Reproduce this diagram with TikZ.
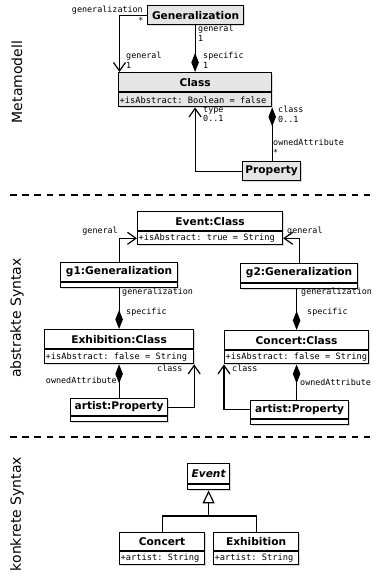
\documentclass[tikz,border=0pt]{standalone}
\usepackage{fontspec}
\setmainfont{DejaVu Sans}
\setmonofont{DejaVu Sans Mono}
\usetikzlibrary{arrows.meta,shadows}
\newcommand\nmfont{\fontsize{10.6}{12}\selectfont\bfseries}
\newcommand\atfont{\fontsize{8.7}{10}\selectfont\ttfamily}
\newcommand\lbfont{\fontsize{8.4}{9.6}\selectfont\ttfamily}
\begin{document}
\begin{tikzpicture}[x=1pt,y=-1pt,
  ln/.style={line width=1.2pt},
  cbox/.style={draw, line width=1.2pt, inner sep=0pt, anchor=north west, fill=white,
    drop shadow={shadow xshift=1.2pt, shadow yshift=-1.2pt, opacity=0.3}},
  gbox/.style={cbox, fill=black!10},
  nm/.style={font=\nmfont},
  attxt/.style={font=\atfont, inner sep=0pt, anchor=west},
  lb/.style={font=\lbfont, inner sep=0pt, align=left},
  openv/.style={-{Straight Barb[length=8.5pt,width=12pt]}},
  comp/.style={{Diamond[length=19pt,width=7.5pt]}-},
  inh/.style={-{Triangle[open,length=13pt,width=12pt,fill=white]}},
  sepline/.style={dash pattern=on 6.5pt off 5.7pt, line width=1.5pt},
  sect/.style={font=\fontsize{14}{16}\selectfont, rotate=90, inner sep=0pt}
]
\useasboundingbox (0,0) rectangle (380,576);

% section labels
\node[sect] (s1) at (17,82) {Metamodell};
\node[sect] (s2) at (17,318) {abstrakte Syntax};
\node[sect] (s3) at (17,514) {konkrete Syntax};

% separators
\draw[sepline] (10,195) -- (372,195);
\draw[sepline] (10,437) -- (372,437);

% ---------------- Metamodell
\node[gbox, nm, minimum width=96pt, minimum height=19pt] (gen) at (147,5) {Generalization};
\node[gbox, nm, minimum width=153pt, minimum height=19pt] (cls) at (118,72) {Class};
\node[gbox, minimum width=153pt, minimum height=14pt] (clsA) at (cls.south west) {};
\node[attxt] (clsAt) at ([xshift=1.5pt]clsA.west) {+isAbstract: Boolean = false};
\node[gbox, nm, minimum width=58pt, minimum height=19pt] (prop) at (242,161) {Property};

\draw[ln, openv] (gen.west) -| ([xshift=1.5pt]cls.north west);
\draw[ln, comp] (cls.north) -- (cls.north |- gen.south);
\draw[ln, openv] (prop.west) -| (clsA.south);
\draw[ln, comp] (clsA.south east) -- (clsA.south east |- prop.north);

\node[lb, anchor=east] (l1) at (143,10) {generalization};
\node[lb] (l2) at (141,20) {*};
\node[lb, anchor=north west] (l3) at (126,52) {general\\1};
\node[lb, anchor=north west] (l4) at (198,25) {general\\1};
\node[lb, anchor=north west] (l5) at (203,52) {specific\\1};
\node[lb, anchor=north west] (l6) at (203,106) {type\\0..1};
\node[lb, anchor=north west] (l7) at (278,106) {class\\0..1};
\node[lb, anchor=north west] (l8) at (273,139) {ownedAttribute\\*};

% ---------------- abstrakte Syntax
\node[cbox, nm, minimum width=145pt, minimum height=19pt] (ev) at (137,211) {Event:Class};
\node[cbox, minimum width=145pt, minimum height=13pt] (evA) at (ev.south west) {};
\node[attxt] (evAt) at ([xshift=1.5pt]evA.west) {+isAbstract: true = String};

\node[cbox, nm, minimum width=117pt, minimum height=19pt] (g1) at (60,262) {g1:Generalization};
\node[cbox, minimum width=117pt, minimum height=5pt] (g1A) at (g1.south west) {};
\node[cbox, nm, minimum width=117pt, minimum height=19pt] (g2) at (240,263) {g2:Generalization};
\node[cbox, minimum width=117pt, minimum height=5pt] (g2A) at (g2.south west) {};

\node[cbox, nm, minimum width=149pt, minimum height=19pt] (exh) at (44,329) {Exhibition:Class};
\node[cbox, minimum width=149pt, minimum height=14pt] (exhA) at (exh.south west) {};
\node[attxt] (exhAt) at ([xshift=1.5pt]exhA.west) {+isAbstract: false = String};

\node[cbox, nm, minimum width=144pt, minimum height=19pt] (conc) at (224,330) {Concert:Class};
\node[cbox, minimum width=144pt, minimum height=13pt] (concA) at (conc.south west) {};
\node[attxt] (concAt) at ([xshift=1.5pt]concA.west) {+isAbstract: false = String};

\node[cbox, nm, minimum width=97pt, minimum height=17pt] (art1) at (70,398) {artist:Property};
\node[cbox, minimum width=97pt, minimum height=5pt] (art1A) at (art1.south west) {};
\node[cbox, nm, minimum width=98pt, minimum height=18pt] (art2) at (250,400) {artist:Property};
\node[cbox, minimum width=98pt, minimum height=5pt] (art2A) at (art2.south west) {};

\draw[ln, openv] (g1.north) |- (evA.west);
\draw[ln, openv] (g2.north) |- (evA.east);
\draw[ln, comp] (exh.north) -- (exh.north |- g1A.south);
\draw[ln, comp] (conc.north) -- (conc.north |- g2A.south);
\draw[ln, comp] (exhA.south) -- (exhA.south |- art1.north);
\draw[ln, openv] (art1.east) -| (exhA.south east);
\draw[ln, comp] (concA.south) -- (concA.south |- art2.north);
\draw[ln, openv] (art2.west) -| (concA.south west);

\node[lb, anchor=east] (m1) at (118,231.5) {general};
\node[lb, anchor=west] (m2) at (287,231.5) {general};
\node[lb, anchor=west] (m3) at (122,292) {generalization};
\node[lb, anchor=west] (m4) at (301,292) {generalization};
\node[lb, anchor=west] (m5) at (126,312) {specific};
\node[lb, anchor=west] (m6) at (307,312) {specific};
\node[lb, anchor=east] (m7) at (117,380) {ownedAttribute};
\node[lb, anchor=west] (m8) at (157,368) {class};
\node[lb, anchor=west] (m9) at (232,368) {class};
\node[lb, anchor=west] (m10) at (300,382) {ownedAttribute};

% ---------------- konkrete Syntax
\node[cbox, font=\nmfont\itshape, minimum width=42pt, minimum height=20pt] (ev2) at (187,463) {Event};
\node[cbox, minimum width=42pt, minimum height=5pt] (ev2A) at (ev2.south west) {};
\node[cbox, nm, minimum width=85pt, minimum height=18pt] (cc) at (119,532) {Concert};
\node[cbox, minimum width=85pt, minimum height=13pt] (ccA) at (cc.south west) {};
\node[attxt] (ccAt) at ([xshift=1.5pt]ccA.west) {+artist: String};
\node[cbox, nm, minimum width=85pt, minimum height=18pt] (ex) at (213,532) {Exhibition};
\node[cbox, minimum width=85pt, minimum height=13pt] (exA) at (ex.south west) {};
\node[attxt] (exAt) at ([xshift=1.5pt]exA.west) {+artist: String};

\coordinate (jy) at (0,516);
\coordinate (jn) at (ev2A.south |- jy);
\draw[ln] (cc.north) |- (jn);
\draw[ln] (ex.north) |- (jn);
\draw[ln, inh] (jn) -- (ev2A.south);
\end{tikzpicture}
\end{document}
